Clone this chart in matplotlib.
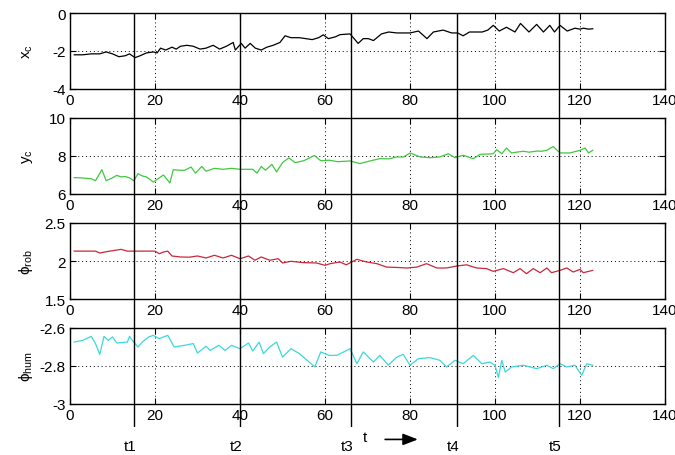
import matplotlib
matplotlib.use("Agg")
import matplotlib.pyplot as plt

plt.rcParams['font.family'] = ['Liberation Sans', 'DejaVu Sans']
plt.rcParams['mathtext.fontset'] = 'custom'
plt.rcParams['mathtext.rm'] = 'Liberation Sans'
plt.rcParams['mathtext.default'] = 'regular'

# ---- data ----
t_xc = [1, 3, 5, 7, 8.5, 10, 11.5, 13, 14, 15.3, 16.5, 18, 19.6, 20.5, 21.3, 22.5, 24, 25, 26, 27.5, 29, 30.6,
        32, 33.7, 35.2, 36.8, 38.4, 38.9, 40.3, 41.2, 42.4, 43.6, 45, 46.3, 47.8, 49.4, 50.6, 52, 54, 55.5, 57,
        58.5, 59.6, 60.8, 62.5, 63.5, 65.9, 67.8, 69, 70.2, 71.4, 73.3, 75, 76.9, 78.5, 80, 82, 84, 85.5, 87.8,
        89.8, 91.2, 92.5, 94, 95.5, 97, 98.3, 99.6, 101, 102.7, 104.7, 106, 108, 109.8, 111.4, 112.9, 114,
        115.3, 117, 118.8, 120, 120.8, 122, 123]
xc = [-2.2, -2.2, -2.15, -2.15, -2.05, -2.15, -2.3, -2.25, -2.15, -2.35, -2.25, -2.1, -2.05, -2.1, -1.85,
      -1.95, -1.8, -1.9, -1.75, -1.7, -1.75, -1.9, -1.85, -1.7, -1.9, -1.75, -1.55, -1.95, -1.6, -1.85, -1.6,
      -1.85, -1.95, -1.8, -1.7, -1.55, -1.2, -1.3, -1.3, -1.35, -1.4, -1.3, -1.15, -1.35, -1.25, -1.14, -1.1,
      -1.6, -1.35, -1.35, -1.45, -1.1, -1.0, -1.05, -1.05, -1.05, -0.95, -1.35, -1.0, -0.9, -1.05, -1.05,
      -1.2, -1.0, -1.0, -1.0, -0.9, -0.65, -0.95, -0.75, -1.0, -0.55, -1.0, -0.6, -1.0, -0.65, -1.0, -0.65,
      -0.95, -0.8, -0.85, -0.8, -0.85, -0.83]

t_yc = [1, 2.5, 4, 5, 6, 7.5, 8.5, 10, 11, 12, 13, 14, 15, 16, 17, 18, 19.6, 21, 22, 23.5, 24.3, 26, 27, 28.5,
        29.5, 31, 32, 34, 36, 38, 40, 41.5, 43, 44, 45, 46, 47.5, 48.6, 50, 51.5, 53, 55, 57.5, 59, 61, 63,
        65.9, 68.2, 70.6, 72.9, 75, 76.9, 78.5, 80, 82.4, 84.7, 87, 89, 90.6, 92.5, 94.9, 96.5, 98, 99.6,
        100.4, 101.6, 102.7, 103.9, 105, 106.7, 108, 109.8, 111, 112.2, 113.7, 115.3, 117.6, 120, 121.2,
        122, 123]
yc = [6.86, 6.85, 6.82, 6.8, 6.7, 7.28, 6.7, 6.85, 6.98, 6.9, 6.92, 6.85, 6.7, 7.07, 6.95, 6.9, 6.63, 6.85,
      7.0, 6.58, 7.28, 7.25, 7.25, 7.42, 7.1, 7.45, 7.2, 7.35, 7.3, 7.35, 7.3, 7.3, 7.3, 7.1, 7.45, 7.25,
      7.56, 7.16, 7.65, 7.9, 7.65, 7.75, 8.03, 7.75, 7.78, 7.7, 7.74, 7.6, 7.74, 7.86, 7.85, 7.95, 7.95,
      8.16, 7.95, 7.91, 7.95, 8.12, 7.91, 8.04, 7.86, 8.09, 8.1, 8.12, 8.33, 8.12, 8.42, 8.16, 8.2, 8.25,
      8.2, 8.26, 8.25, 8.3, 8.5, 8.16, 8.16, 8.3, 8.42, 8.16, 8.3]

t_rob = [1, 4, 6, 7, 9, 12, 13.5, 15, 18, 20, 21, 22, 23, 24, 26, 28, 30, 32, 34, 36, 38, 40, 42, 43.5, 45,
         47, 49, 50, 52, 55, 58, 60, 61.2, 63.5, 65, 67.5, 69.8, 72.2, 74.5, 77, 79.2, 81.6, 83.9, 86.3,
         88.6, 91, 93.3, 95.7, 98, 99.6, 102, 104.3, 105.9, 107.4, 109, 110.6, 112.2, 113.3, 115.3, 116.9,
         118.4, 120, 120.8, 123]
phi_rob = [2.13, 2.13, 2.13, 2.105, 2.127, 2.153, 2.13, 2.13, 2.13, 2.13, 2.096, 2.118, 2.13, 2.066, 2.053,
           2.05, 2.066, 2.04, 2.075, 2.04, 2.075, 2.03, 2.066, 2.01, 2.053, 2.01, 2.03, 1.974, 1.996, 1.978,
           1.974, 1.943, 1.965, 1.987, 1.95, 2.022, 1.987, 1.965, 1.92, 1.915, 1.908, 1.92, 1.965, 1.908,
           1.908, 1.934, 1.95, 1.908, 1.9, 1.864, 1.9, 1.846, 1.9, 1.833, 1.9, 1.846, 1.908, 1.846, 1.877,
           1.908, 1.855, 1.89, 1.846, 1.877]

t_hum = [1, 3, 5, 6, 7, 8, 9, 10, 11, 13.5, 14, 15, 16, 17, 18.5, 19.6, 21, 22, 23, 24.5, 27, 29, 30, 32, 33,
         35, 36.5, 38, 40, 42, 43, 44.5, 45.5, 47, 48.6, 50, 52, 54, 57.6, 59, 61, 62.8, 65.9, 67.5, 69,
         71.4, 72.9, 74.9, 76.9, 78.4, 80, 82, 84.7, 87, 88.6, 90.6, 92.5, 94.9, 96.9, 98.8, 100, 100.8,
         101.6, 102.4, 103.9, 106.7, 109.8, 112.2, 113.7, 115.3, 116.9, 118.8, 120.4, 121.6, 123]
phi_hum = [-2.674, -2.665, -2.644, -2.682, -2.739, -2.644, -2.665, -2.647, -2.679, -2.674, -2.644, -2.674,
           -2.7, -2.674, -2.647, -2.639, -2.656, -2.647, -2.639, -2.7, -2.691, -2.682, -2.732, -2.696,
           -2.718, -2.691, -2.718, -2.691, -2.709, -2.679, -2.721, -2.674, -2.735, -2.7, -2.674, -2.753,
           -2.709, -2.735, -2.805, -2.726, -2.744, -2.744, -2.709, -2.788, -2.726, -2.779, -2.744, -2.796,
           -2.753, -2.739, -2.796, -2.761, -2.756, -2.77, -2.805, -2.77, -2.788, -2.744, -2.788, -2.779,
           -2.796, -2.861, -2.77, -2.832, -2.805, -2.796, -2.814, -2.796, -2.814, -2.788, -2.805, -2.796,
           -2.849, -2.788, -2.796]

event_times = [15, 40, 66, 91, 115]
event_labels = ['t1', 't2', 't3', 't4', 't5']
x_ticks = [0, 20, 40, 60, 80, 100, 120, 140]

panels = [
    (t_xc, xc, 'black', 'x$_c$', (-4, 0), [-4, -2, 0], ['-4', '-2', '0']),
    (t_yc, yc, '#40c840', 'y$_c$', (6, 10), [6, 8, 10], ['6', '8', '10']),
    (t_rob, phi_rob, '#c8283c', 'ϕ$_{rob}$', (1.5, 2.5), [1.5, 2, 2.5], ['1.5', '2', '2.5']),
    (t_hum, phi_hum, '#3cd8dc', 'ϕ$_{hum}$', (-3, -2.6), [-3, -2.8, -2.6], ['-3', '-2.8', '-2.6']),
]

FS = 11
W, H = 675, 456
fig = plt.figure(figsize=(W / 100, H / 100), dpi=100)
left = 70 / W
width = (665 - 70) / W
tops = [14, 119, 224, 329]
ah = 76

for (tt, vv, col, lab, ylim, yt, ytl), top in zip(panels, tops):
    ax = fig.add_axes([left, (H - top - ah) / H, width, ah / H])
    ax.plot(tt, vv, color=col, lw=0.9)
    ax.set_xlim(0, 140)
    ax.set_ylim(*ylim)
    ax.set_xticks(x_ticks)
    ax.set_xticklabels([str(v) for v in x_ticks])
    ax.set_yticks(yt)
    ax.set_yticklabels(ytl)
    ax.grid(True, color='black', linestyle=(0, (1, 3)), lw=0.7)
    ax.tick_params(direction='in', top=True, right=True, length=4, labelsize=FS, pad=3)
    for s in ax.spines.values():
        s.set_linewidth(1.0)
    ax.set_ylabel(lab, fontsize=FS)
    ax.yaxis.set_label_coords(-0.058, 0.5)

# overlay axes for event lines
ov_top, ov_bot = 14, 428
ov = fig.add_axes([left, (H - ov_bot) / H, width, (ov_bot - ov_top) / H])
ov.set_xlim(0, 140)
ov.set_ylim(0, 1)
ov.axis('off')
ov.patch.set_alpha(0)
for et, el in zip(event_times, event_labels):
    ov.axvline(et, color='black', lw=1.0)
    ov.text(et - 0.8, -0.045, el, ha='center', va='center', fontsize=FS)

ov.text(69.4, -0.025, 't', ha='center', va='center', fontsize=FS)
ov.annotate('', xy=(82.5, -0.03), xytext=(73.5, -0.03),
            arrowprops=dict(arrowstyle='-|>,head_length=0.9,head_width=0.35', color='black', lw=1.2),
            annotation_clip=False)

fig.savefig('out.png', dpi=100)
